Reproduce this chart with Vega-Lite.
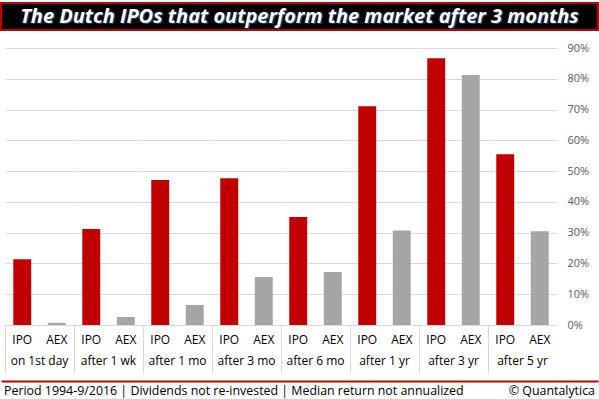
{
  "$schema": "https://vega.github.io/schema/vega-lite/v6.json",
  "padding": {"left": 0, "top": 2, "right": 0, "bottom": 0},
  "background": "white",
  "config": {"view": {"stroke": null}, "font": "Open Sans"},
  "spacing": 11,
  "vconcat": [
    {
      "width": 597,
      "height": 27,
      "view": {"fill": "#000000", "stroke": "#C00000", "strokeWidth": 2},
      "data": {"values": [{"t": "The Dutch IPOs that outperform the market after 3 months"}]},
      "layer": [
        {"mark": {"type": "text", "color": "#1F3864", "dx": 1.5, "dy": 1.5, "font": "Open Sans", "fontSize": 20, "fontWeight": "bold", "fontStyle": "italic"},
         "encoding": {"text": {"field": "t", "type": "nominal"}}},
        {"mark": {"type": "text", "color": "#FFFFFF", "font": "Open Sans", "fontSize": 20, "fontWeight": "bold", "fontStyle": "italic"},
         "encoding": {"text": {"field": "t", "type": "nominal"}}}
      ]
    },
    {
      "spacing": 7,
      "center": true,
      "vconcat": [
        {
          "data": {"values": [
            {"group": "on 1st day", "series": "IPO", "value": 0.214},
            {"group": "on 1st day", "series": "AEX", "value": 0.007},
            {"group": "after 1 wk", "series": "IPO", "value": 0.312},
            {"group": "after 1 wk", "series": "AEX", "value": 0.026},
            {"group": "after 1 mo", "series": "IPO", "value": 0.471},
            {"group": "after 1 mo", "series": "AEX", "value": 0.065},
            {"group": "after 3 mo", "series": "IPO", "value": 0.477},
            {"group": "after 3 mo", "series": "AEX", "value": 0.156},
            {"group": "after 6 mo", "series": "IPO", "value": 0.351},
            {"group": "after 6 mo", "series": "AEX", "value": 0.172},
            {"group": "after 1 yr", "series": "IPO", "value": 0.711},
            {"group": "after 1 yr", "series": "AEX", "value": 0.307},
            {"group": "after 3 yr", "series": "IPO", "value": 0.867},
            {"group": "after 3 yr", "series": "AEX", "value": 0.812},
            {"group": "after 5 yr", "series": "IPO", "value": 0.555},
            {"group": "after 5 yr", "series": "AEX", "value": 0.305}
          ]},
          "spacing": 0,
          "facet": {
            "column": {
              "field": "group", "type": "nominal",
              "sort": ["on 1st day", "after 1 wk", "after 1 mo", "after 3 mo", "after 6 mo", "after 1 yr", "after 3 yr", "after 5 yr"],
              "header": {"labelOrient": "bottom", "title": null, "labelFont": "Open Sans", "labelFontSize": 12, "labelColor": "#000000", "labelPadding": -18}
            }
          },
          "spec": {
            "width": 69,
            "height": 277,
            "mark": {"type": "bar", "width": {"band": 0.52}},
            "encoding": {
              "x": {
                "field": "series", "type": "nominal", "sort": ["IPO", "AEX"],
                "scale": {"paddingInner": 0, "paddingOuter": 0},
                "axis": {"title": null, "labelAngle": 0, "labelFont": "Open Sans", "labelFontSize": 12, "labelColor": "#000000", "labelPadding": -39,
                         "domainColor": "#D9D9D9", "domainWidth": 1, "bandPosition": 0, "tickSize": 48, "tickColor": "#D9D9D9",
                         "tickOpacity": {"condition": {"test": "datum.value === 'IPO'", "value": 1}, "value": 0}}
              },
              "y": {
                "field": "value", "type": "quantitative",
                "scale": {"domain": [0, 0.9]},
                "axis": {"orient": "right", "title": null, "format": ".0%", "values": [0, 0.1, 0.2, 0.3, 0.4, 0.5, 0.6, 0.7, 0.8, 0.9],
                         "grid": true, "gridColor": "#D9D9D9", "domain": false, "ticks": false, "labelPadding": 10,
                         "labelFont": "Open Sans", "labelFontSize": 11, "labelColor": "#595959", "minExtent": 37}
              },
              "color": {"field": "series", "type": "nominal", "scale": {"domain": ["IPO", "AEX"], "range": ["#C00000", "#A5A5A5"]}, "legend": null}
            }
          }
        },
        {
          "width": 597,
          "height": 20,
          "data": {"values": [
            {"pos": 0, "side": "L", "t": "Period 1994-9/2016 | Dividends not re-invested | Median return not annualized"},
            {"pos": 1, "side": "R", "t": "© Quantalytica"}
          ]},
          "encoding": {
            "x": {"field": "pos", "type": "quantitative", "scale": {"domain": [0, 1]},
                  "axis": {"orient": "top", "title": null, "labels": false, "ticks": false, "grid": false, "domainColor": "#C00000", "domainWidth": 2}},
            "text": {"field": "t", "type": "nominal"}
          },
          "layer": [
            {"transform": [{"filter": "datum.side === 'L'"}], "mark": {"type": "text", "align": "left", "dx": 3, "font": "Open Sans", "fontSize": 12.4, "color": "#000000"}},
            {"transform": [{"filter": "datum.side === 'R'"}], "mark": {"type": "text", "align": "right", "dx": -3, "font": "Open Sans", "fontSize": 12.4, "color": "#000000"}}
          ]
        }
      ]
    }
  ]
}
